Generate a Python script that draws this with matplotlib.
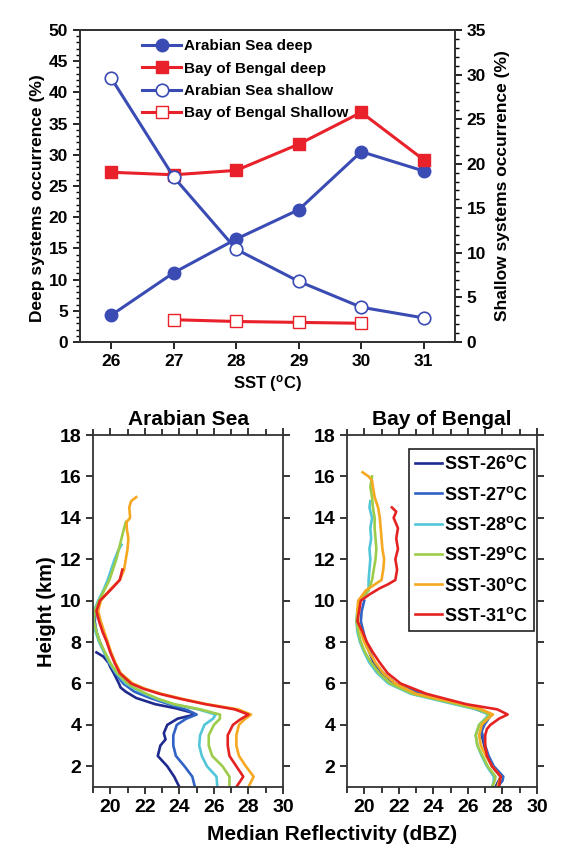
import matplotlib
matplotlib.use("Agg")
import matplotlib.pyplot as plt
from matplotlib.ticker import MultipleLocator

plt.rcParams['font.family'] = ['Liberation Sans', 'DejaVu Sans']
plt.rcParams['font.weight'] = 'bold'
plt.rcParams['axes.labelweight'] = 'bold'
plt.rcParams['mathtext.fontset'] = 'custom'
plt.rcParams['mathtext.rm'] = 'Liberation Sans:bold'
plt.rcParams['mathtext.bf'] = 'Liberation Sans:bold'
plt.rcParams['mathtext.it'] = 'Liberation Sans:bold'

# ---------------- Top panel data ----------------
sst = [26, 27, 28, 29, 30, 31]
as_deep = [4.3, 11.1, 16.5, 21.2, 30.5, 27.4]
bob_deep = [27.2, 26.8, 27.5, 31.7, 36.8, 29.2]
as_shallow = [29.6, 18.5, 10.4, 6.8, 3.9, 2.7]
sst_bob_shallow = [27, 28, 29, 30]
bob_shallow = [2.5, 2.3, 2.2, 2.1]

# ---------------- Profile data ----------------
sst_labels = ['SST-26$^\\mathrm{o}$C', 'SST-27$^\\mathrm{o}$C', 'SST-28$^\\mathrm{o}$C',
              'SST-29$^\\mathrm{o}$C', 'SST-30$^\\mathrm{o}$C', 'SST-31$^\\mathrm{o}$C']
prof_colors = ['#1f2a8e', '#3163c6', '#52c6d8', '#9ccc4a', '#f5a820', '#e52222']

# Arabian Sea
as26_h = [1.0, 1.5, 2.0, 2.5, 3.0, 3.3, 3.6, 4.0, 4.3, 4.5, 4.6, 4.8, 5.0, 5.3, 5.6, 5.8, 6.0, 6.5, 6.8, 7.0, 7.3, 7.5]
as26_z = [24.0, 23.7, 23.3, 22.75, 22.9, 23.2, 23.1, 23.3, 23.9, 24.9, 24.7, 23.8, 22.6, 21.5, 20.9, 20.6, 20.5, 20.2, 20.0, 19.9, 19.6, 19.2]
as27_h = [1.0, 1.5, 2.0, 2.5, 3.0, 3.5, 4.0, 4.3, 4.5, 4.7, 5.0, 5.3, 5.6, 6.0, 6.5, 7.0, 7.5, 8.0, 8.5, 9.0, 9.4]
as27_z = [24.9, 24.75, 24.3, 23.8, 23.65, 23.65, 23.85, 24.4, 25.0, 24.5, 23.4, 22.3, 21.4, 20.75, 20.3, 19.95, 19.65, 19.4, 19.2, 19.1, 19.15]
as28_h = [1.0, 1.5, 2.0, 2.5, 3.0, 3.5, 4.0, 4.3, 4.5, 4.75, 5.0, 5.25, 5.5, 5.75, 6.0, 6.5, 7.0, 7.5, 8.0, 8.5, 9.0, 9.6, 10.0, 10.5, 11.0, 11.5, 12.0, 12.4, 12.7]
as28_z = [26.2, 26.15, 25.6, 25.3, 25.15, 25.2, 25.45, 25.95, 26.1, 25.1, 23.6, 22.7, 22.0, 21.4, 20.9, 20.35, 19.95, 19.65, 19.35, 19.15, 19.0, 19.1, 19.3, 19.6, 19.85, 20.05, 20.25, 20.45, 20.65]
as29_h = [1.0, 1.5, 2.0, 2.5, 3.0, 3.5, 4.0, 4.3, 4.5, 4.75, 5.0, 5.25, 5.5, 5.75, 6.0, 6.5, 7.0, 7.5, 8.0, 8.5, 9.0, 9.5, 10.0, 10.5, 11.0, 11.5, 12.0, 12.5, 13.0, 13.5, 13.8]
as29_z = [26.9, 26.9, 26.5, 25.9, 25.7, 25.7, 26.0, 26.35, 26.35, 25.2, 23.7, 22.8, 22.1, 21.5, 21.0, 20.4, 20.0, 19.7, 19.4, 19.2, 19.05, 19.1, 19.35, 19.65, 19.95, 20.15, 20.35, 20.5, 20.65, 20.8, 20.9]
as30_h = [1.0, 1.5, 2.0, 2.5, 3.0, 3.5, 4.0, 4.25, 4.5, 4.75, 5.0, 5.25, 5.5, 5.75, 6.0, 6.5, 7.0, 7.5, 8.0, 8.5, 9.0, 9.5, 10.0, 10.5, 11.0, 11.5, 12.0, 12.5, 13.0, 13.5, 13.8, 14.0, 14.5, 14.8, 15.0]
as30_z = [28.0, 28.3, 27.85, 27.45, 27.3, 27.3, 27.45, 27.75, 28.15, 27.4, 25.6, 24.2, 22.95, 22.0, 21.3, 20.6, 20.3, 20.05, 19.85, 19.65, 19.45, 19.3, 19.45, 19.95, 20.55, 20.8, 20.9, 21.0, 21.05, 20.95, 20.95, 21.15, 21.1, 21.2, 21.5]
as31_h = [1.0, 1.5, 2.0, 2.5, 3.0, 3.5, 4.0, 4.25, 4.5, 4.75, 5.0, 5.25, 5.5, 5.75, 6.0, 6.5, 7.0, 7.5, 8.0, 8.5, 9.0, 9.5, 10.0, 10.5, 11.0, 11.5]
as31_z = [27.3, 27.7, 27.3, 26.9, 26.8, 26.8, 27.1, 27.5, 28.0, 27.2, 25.5, 24.1, 22.85, 21.9, 21.2, 20.55, 20.25, 20.0, 19.8, 19.55, 19.35, 19.2, 19.4, 20.0, 20.55, 20.7]

# Bay of Bengal
bb26_h = [1.0, 1.5, 2.0, 2.5, 3.0, 3.5, 3.7, 4.0, 4.5, 5.0, 5.5, 6.0, 6.5, 7.0, 7.5, 8.0, 8.3]
bb26_z = [27.6, 27.9, 27.4, 27.1, 26.95, 26.8, 26.75, 26.9, 27.3, 25.7, 23.2, 21.75, 21.05, 20.55, 20.3, 20.05, 19.95]
bb27_h = [1.0, 1.3, 1.5, 2.0, 2.5, 3.0, 3.5, 3.7, 4.0, 4.5, 5.0, 5.5, 6.0, 6.5, 7.0, 7.5, 8.0, 8.5, 9.0, 9.5, 10.0]
bb27_z = [27.7, 28.0, 28.05, 27.5, 27.2, 27.0, 26.85, 26.8, 26.95, 27.35, 25.8, 23.3, 21.8, 21.1, 20.6, 20.35, 20.1, 19.95, 19.8, 19.85, 20.0]
bb28_h = [1.0, 1.3, 1.5, 2.0, 2.5, 3.0, 3.5, 4.0, 4.3, 4.5, 4.75, 5.0, 5.5, 6.0, 6.5, 7.0, 7.5, 8.0, 8.5, 9.0, 9.5, 10.0, 10.5, 11.0, 11.5, 12.0, 12.5, 13.0, 13.5, 14.0, 14.5, 14.8]
bb28_z = [27.4, 27.5, 27.5, 27.1, 26.8, 26.55, 26.45, 26.65, 27.0, 27.2, 26.5, 25.2, 22.7, 21.4, 20.75, 20.3, 20.0, 19.75, 19.6, 19.55, 19.6, 19.75, 20.25, 20.25, 20.3, 20.35, 20.3, 20.4, 20.35, 20.45, 20.3, 20.35]
bb29_h = [1.0, 1.3, 1.5, 2.0, 2.5, 3.0, 3.5, 4.0, 4.3, 4.5, 4.75, 5.0, 5.5, 6.0, 6.5, 7.0, 7.5, 8.0, 8.5, 9.0, 9.5, 10.0, 10.5, 11.0, 11.5, 12.0, 12.5, 13.0, 13.5, 14.0, 14.5, 15.0, 15.5, 16.0]
bb29_z = [27.4, 27.55, 27.6, 27.15, 26.85, 26.55, 26.45, 26.65, 27.05, 27.3, 26.6, 25.4, 22.8, 21.5, 20.85, 20.4, 20.05, 19.8, 19.65, 19.55, 19.6, 19.75, 20.25, 20.45, 20.55, 20.65, 20.7, 20.65, 20.6, 20.6, 20.5, 20.45, 20.35, 20.45]
bb30_h = [1.0, 1.5, 2.0, 2.5, 3.0, 3.5, 4.0, 4.3, 4.5, 4.75, 5.0, 5.5, 6.0, 6.5, 7.0, 7.5, 8.0, 8.5, 9.0, 9.5, 10.0, 10.5, 11.0, 11.5, 12.0, 12.5, 13.0, 13.5, 14.0, 14.5, 15.0, 15.5, 15.8, 16.0, 16.2]
bb30_z = [27.7, 27.9, 27.4, 27.05, 26.75, 26.65, 26.8, 27.15, 27.45, 26.8, 25.7, 23.0, 21.8, 21.1, 20.65, 20.3, 20.0, 19.8, 19.65, 19.6, 19.65, 20.1, 21.0, 21.1, 21.15, 21.05, 21.0, 20.95, 20.9, 20.8, 20.6, 20.5, 20.45, 20.25, 19.9]
bb31_h = [1.0, 1.3, 1.5, 2.0, 2.5, 3.0, 3.5, 3.8, 4.0, 4.3, 4.5, 4.75, 5.0, 5.5, 6.0, 6.5, 7.0, 7.5, 8.0, 8.5, 9.0, 9.5, 10.0, 10.3, 10.6, 10.8, 11.0, 11.5, 12.0, 12.5, 13.0, 13.5, 14.0, 14.3, 14.5]
bb31_z = [27.8, 27.85, 27.9, 27.4, 27.1, 27.0, 27.0, 27.1, 27.3, 27.8, 28.3, 27.7, 25.9, 23.6, 22.1, 21.35, 20.9, 20.5, 20.15, 19.9, 19.6, 19.7, 19.8, 20.3, 20.9, 21.4, 21.8, 21.9, 21.8, 21.95, 21.85, 21.95, 21.7, 21.85, 21.6]

as_profiles = [(as26_z, as26_h), (as27_z, as27_h), (as28_z, as28_h),
               (as29_z, as29_h), (as30_z, as30_h), (as31_z, as31_h)]
bb_profiles = [(bb26_z, bb26_h), (bb27_z, bb27_h), (bb28_z, bb28_h),
               (bb29_z, bb29_h), (bb30_z, bb30_h), (bb31_z, bb31_h)]

W, H = 581, 857
fig = plt.figure(figsize=(W / 100, H / 100), dpi=100)

def rect(l, t, r, b):
    return [l / W, 1 - b / H, (r - l) / W, (b - t) / H]

blue = '#3a4cb4'
red = '#e8212b'

# ---------------- Top panel ----------------
ax = fig.add_axes(rect(80, 30, 455, 342))
ax2 = ax.twinx()
l1, = ax.plot(sst, as_deep, '-o', color=blue, lw=2.2, ms=9, mfc=blue, mec=blue,
              label='Arabian Sea deep')
l2, = ax.plot(sst, bob_deep, '-s', color=red, lw=2.2, ms=8, mfc=red, mec=red,
              label='Bay of Bengal deep')
l3, = ax2.plot(sst, as_shallow, '-o', color=blue, lw=2.2, ms=9, mfc='white', mec=blue,
               mew=1.2, label='Arabian Sea shallow')
l4, = ax2.plot(sst_bob_shallow, bob_shallow, '-s', color=red, lw=2.2, ms=8, mfc='white',
               mec=red, mew=1.0, label='Bay of Bengal Shallow')
ax.set_xlim(25.5, 31.5)
ax.set_ylim(0, 50)
ax2.set_ylim(0, 35)
ax.set_xticks(sst)
ax.yaxis.set_major_locator(MultipleLocator(5))
ax.yaxis.set_minor_locator(MultipleLocator(1))
ax2.yaxis.set_major_locator(MultipleLocator(5))
ax2.yaxis.set_minor_locator(MultipleLocator(1))
ax.tick_params(axis='both', which='major', direction='out', length=5, width=1.2, labelsize=12.5)
ax.tick_params(axis='y', which='minor', direction='out', length=3, width=1)
ax2.tick_params(axis='y', which='major', direction='out', length=5, width=1.2, labelsize=12.5)
ax2.tick_params(axis='y', which='minor', direction='out', length=3, width=1)
for a in (ax, ax2):
    for s in a.spines.values():
        s.set_linewidth(1.3)
        s.set_color('#333333')
ax.set_xlabel('SST ($^\\mathrm{o}$C)', fontsize=12, labelpad=3)
ax.set_ylabel('Deep systems occurrence (%)', fontsize=12.5)
ax.yaxis.set_label_coords(-0.093, 0.46)
ax2.set_ylabel('Shallow systems occurrence (%)', fontsize=12.5, labelpad=6)
ax2.legend(handles=[l1, l2, l3, l4], loc='upper left', bbox_to_anchor=(0.14, 1.0),
           frameon=False, fontsize=11, handlelength=2.6, labelspacing=0.55,
           handletextpad=0.2, borderaxespad=0.2)

# ---------------- Bottom panels ----------------
axL = fig.add_axes(rect(93, 435, 283, 787))
axR = fig.add_axes(rect(347, 435, 537, 787))
for a, profs, title in ((axL, as_profiles, 'Arabian Sea'), (axR, bb_profiles, 'Bay of Bengal')):
    for (z, h), c, lab in zip(profs, prof_colors, sst_labels):
        a.plot(z, h, color=c, lw=1.9, label=lab)
    a.set_xlim(19, 30)
    a.set_ylim(1, 18)
    a.xaxis.set_major_locator(MultipleLocator(2))
    a.xaxis.set_minor_locator(MultipleLocator(1))
    a.yaxis.set_major_locator(MultipleLocator(2))
    a.tick_params(which='both', direction='out', top=True, right=True,
                  labeltop=False, labelright=False, width=1.1)
    a.tick_params(which='major', length=5, labelsize=14)
    a.tick_params(which='minor', length=4)
    a.set_xticks([20, 22, 24, 26, 28, 30])
    for s in a.spines.values():
        s.set_linewidth(1.3)
        s.set_color('#333333')
    a.set_title(title, fontsize=15, fontweight='bold', pad=7)

leg = axR.legend(loc='upper right', bbox_to_anchor=(0.985, 0.96), fontsize=13,
                 handlelength=1.5, handletextpad=0.1, labelspacing=0.68,
                 borderaxespad=0.0, fancybox=False, edgecolor='#222222',
                 framealpha=1, borderpad=0.35)
leg.get_frame().set_linewidth(1.2)

fig.text(332 / W, 1 - 834 / H, 'Median Reflectivity (dBZ)', ha='center', va='center',
         fontsize=15, fontweight='bold')
fig.text(46 / W, 1 - 612 / H, 'Height (km)', ha='center', va='center', rotation=90,
         fontsize=14.5, fontweight='bold')

fig.savefig('out.png', dpi=100, facecolor='white')
